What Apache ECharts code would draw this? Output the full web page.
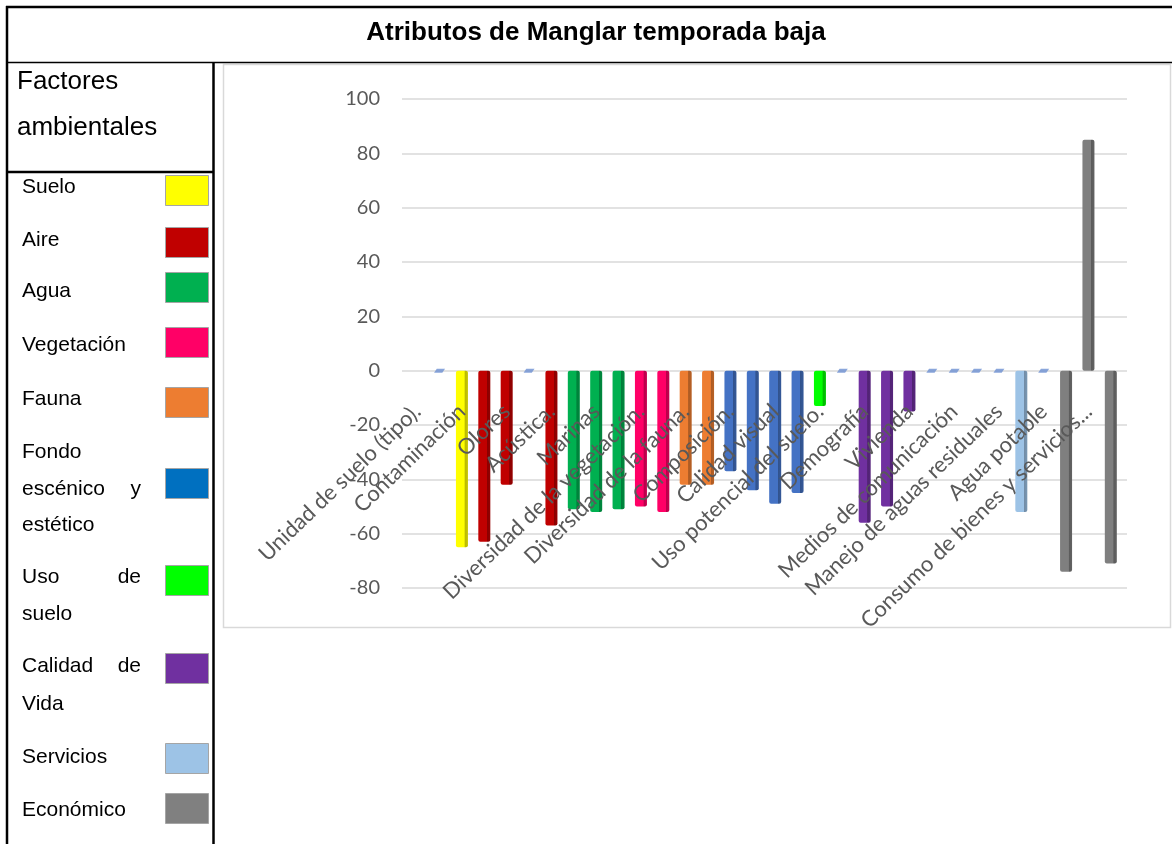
<!DOCTYPE html>
<html><head><meta charset="utf-8">
<script src="https://cdn.jsdelivr.net/npm/echarts@6/dist/echarts.min.js"></script>
<style>html,body{margin:0;padding:0;background:#fff}#c{width:1172px;height:844px}</style>
</head><body><div id="c"></div>
<script>
// ---------- data ----------
const chartTitle = 'Atributos de Manglar temporada baja';
const legendHeader = ['Factores', 'ambientales'];
const factorNames = ['Suelo', 'Aire', 'Agua', 'Vegetación', 'Fauna', 'Fondo escénico y estético',
  'Uso de suelo', 'Calidad de Vida', 'Servicios', 'Económico'];
const factorColors = ['#FFFF00', '#C00000', '#00B050', '#FF0066', '#ED7D31', '#0070C0',
  '#00FF00', '#7030A0', '#9DC3E6', '#808080'];
const barColors = ['#FFFF00', '#C00000', '#00B050', '#FF0066', '#ED7D31', '#4472C4',
  '#00FF00', '#7030A0', '#9DC3E6', '#7F7F7F'];
const categories = ['Unidad de suelo (tipo).', '', 'Contaminación', '', 'Olores', '', 'Acústica.', '',
  'Marinas', '', 'Diversidad de la vegetación.', '', 'Diversidad de la fauna.', '', 'Composición.', '',
  'Calidad visual', '', 'Uso potencial del suelo.', '', 'Demografía', '', 'Vivienda', '',
  'Medios de comunicación', '', 'Manejo de aguas residuales', '', 'Agua potable', '',
  'Consumo de bienes y servicios...', ''];
const values = [null, 0, -65, -63, -42, 0, -57, -51, -52, -51, -50, -52, -42, -42, -37, -44,
  -49, -45, -13, 0, -56, -50, -15, 0, 0, 0, 0, -52, 0, -74, 85, -71];
const barFactor = [null, null, 0, 1, 1, null, 1, 2, 2, 2, 3, 3, 4, 4, 5, 5,
  5, 5, 6, null, 7, 7, 7, null, null, null, null, 8, null, 9, 9, 9];
const yTicks = { min: -80, max: 100, interval: 20 };

// ---------- helpers ----------
function shade(hex, f) {
  const n = parseInt(hex.slice(1), 16);
  const r = Math.round(((n >> 16) & 255) * f), g = Math.round(((n >> 8) & 255) * f), b = Math.round((n & 255) * f);
  return 'rgb(' + r + ',' + g + ',' + b + ')';
}
function barFill(c) {
  return new echarts.graphic.LinearGradient(0, 0, 1, 0, [
    { offset: 0, color: c }, { offset: 0.7, color: c },
    { offset: 0.74, color: shade(c, 0.72) }, { offset: 1, color: shade(c, 0.78) }
  ]);
}

const FONT_AX = 'Lato, "Open Sans", sans-serif';
const FONT_T = '"Liberation Sans", Arial, sans-serif';

// ---------- table / legend graphics ----------
const g = [];
function line(x1, y1, x2, y2, w, col) {
  g.push({ type: 'line', shape: { x1, y1, x2, y2 }, style: { stroke: col || '#000', lineWidth: w || 2 }, z: 1 });
}
function txt(x, y, s, opt) {
  g.push({ type: 'text', x, y, style: Object.assign({ text: s, font: '21px ' + FONT_T, fill: '#000',
    textVerticalAlign: 'middle', textAlign: 'left' }, opt || {}), z: 5 });
}
// chart area border
g.push({ type: 'rect', shape: { x: 223.5, y: 64.5, width: 947, height: 563 },
  style: { fill: 'none', stroke: '#d9d9d9', lineWidth: 1.5 }, z: 0 });
// table lines
line(6, 7, 1172, 7, 2.5);
line(7, 6, 7, 844, 2.5);
line(6, 62.5, 1172, 62.5, 1.5);
line(213.5, 62, 213.5, 844, 2.5);
line(7, 172, 213.5, 172, 2.5);
// title
txt(596, 33, chartTitle, { font: 'bold 26px ' + FONT_T, textAlign: 'center' });
// legend header
txt(17, 82, legendHeader[0], { font: '26px ' + FONT_T });
txt(17, 128, legendHeader[1], { font: '26px ' + FONT_T });
// legend rows (layout: text lines split from factor names, justified where needed)
const rowLayout = [
  { lines: [[0, 1]], ty: [187], sy: 175 },
  { lines: [[0, 1]], ty: [240], sy: 227 },
  { lines: [[0, 1]], ty: [291], sy: 272 },
  { lines: [[0, 1]], ty: [345], sy: 327 },
  { lines: [[0, 1]], ty: [399], sy: 387 },
  { lines: [[0, 1], [1, 3], [3, 4]], ty: [452, 489, 525], sy: 468 },
  { lines: [[0, 2], [2, 3]], ty: [577, 614], sy: 565 },
  { lines: [[0, 2], [2, 3]], ty: [666, 704], sy: 653 },
  { lines: [[0, 1]], ty: [757], sy: 743 },
  { lines: [[0, 1]], ty: [810], sy: 793 }
];
rowLayout.forEach((row, i) => {
  const words = factorNames[i].split(' ');
  const n = row.lines.length;
  row.lines.forEach((rng, j) => {
    const w = words.slice(rng[0], rng[1]);
    if (n > 1 && j < n - 1 && w.length === 2) {
      txt(22, row.ty[j], w[0]);
      txt(141, row.ty[j], w[1], { textAlign: 'right' });
    } else {
      txt(22, row.ty[j], w.join(' '));
    }
  });
  g.push({ type: 'rect', shape: { x: 165.5, y: row.sy + 0.5, width: 43, height: 30 },
    style: { fill: factorColors[i], stroke: '#a5a5a5', lineWidth: 1 }, z: 5 });
});

// ---------- chart ----------
const chart = echarts.init(document.getElementById('c'));
chart.setOption({
  backgroundColor: '#fff',
  animation: false,
  graphic: g,
  grid: [
    { left: 402, right: 45, top: 99, bottom: 256, outerBoundsMode: 'none', containLabel: false },
    { left: 406, right: 50, top: 99, bottom: 256, outerBoundsMode: 'none', containLabel: false }
  ],
  xAxis: [
    { type: 'category', gridIndex: 0, data: categories, show: false },
    // labels sit just below the zero line (Excel "next to axis" placement)
    { type: 'category', gridIndex: 1, data: categories, z: 6, position: 'bottom',
      axisLine: { show: false, onZero: false },
      axisTick: { show: false },
      axisLabel: { interval: 0, rotate: 44, margin: -180, fontSize: 22, color: '#595959', fontFamily: FONT_AX } }
  ],
  yAxis: [
    { type: 'value', gridIndex: 0, min: yTicks.min, max: yTicks.max, interval: yTicks.interval,
      axisLine: { show: false }, axisTick: { show: false },
      splitLine: { lineStyle: { color: '#d9d9d9', width: 1.5 } },
      axisLabel: { margin: 22, fontSize: 20, color: '#595959', fontFamily: FONT_AX } },
    { type: 'value', gridIndex: 1, min: yTicks.min, max: yTicks.max, interval: yTicks.interval,
      show: false }
  ],
  series: [
    { type: 'bar', xAxisIndex: 1, yAxisIndex: 1, barWidth: 12, z: 2,
      itemStyle: { borderRadius: 2 },
      data: values.map((v, i) => (v === null || v === 0) ? '-' :
        { value: v, itemStyle: { color: barFill(barColors[barFactor[i]]) } }) },
    { type: 'scatter', xAxisIndex: 1, yAxisIndex: 1, z: 3,
      symbol: 'path://M0,4 L3,0 L12,0 L9,4 Z', symbolSize: [11, 4],
      itemStyle: { color: '#6d90d2' },
      data: values.map(v => v === 0 ? 0 : '-') }
  ]
});
</script>
</body></html>
